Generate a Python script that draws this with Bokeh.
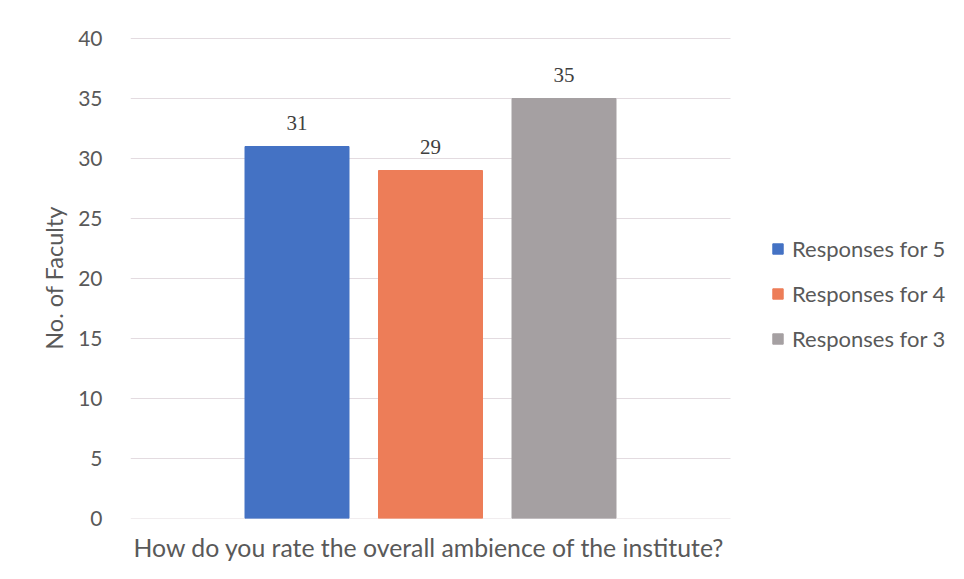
from bokeh.plotting import figure
from bokeh.models import Range1d, ColumnDataSource, Legend, LegendItem, FixedTicker, Title
from bokeh.embed import file_html
from bokeh.resources import INLINE
from bokeh.core.properties import value

series = ["Responses for 5", "Responses for 4", "Responses for 3"]
counts = [31, 29, 35]
colors = ["#4472C4", "#ED7D58", "#A5A0A2"]
y_ticks = [0, 5, 10, 15, 20, 25, 30, 35, 40]
x_title = "How do you rate the overall ambience of the institute?"
y_title = "No. of Faculty"

W, H = 960, 575
p = figure(width=W, height=H, output_backend="svg", toolbar_location=None,
           x_range=Range1d(0, 8.3), y_range=Range1d(0, 40 + 1 / 12),
           min_border_left=130, min_border_right=0, min_border_top=37, min_border_bottom=57)

# gridlines across the plotting area only (the frame extends under the legend)
p.segment(x0=[0] * len(y_ticks), x1=[6] * len(y_ticks), y0=y_ticks, y1=y_ticks,
          line_color="#e3dbe0", line_width=1)

centers = [3 + (i - 1) * 1.335 for i in range(len(series))]
src = ColumnDataSource(dict(x=centers, top=counts, color=colors, name=series,
                            label=[str(c) for c in counts]))
r = p.vbar(x="x", top="top", width=1.04, bottom=0, color="color", source=src)

p.text(x="x", y="top", text="label", source=src, text_align="center", text_baseline="bottom",
       y_offset=-17, text_font=value("Liberation Serif"), text_font_size="21px", text_color="#404040")

p.outline_line_color = None
p.xgrid.grid_line_color = None
p.ygrid.grid_line_color = None
p.yaxis.ticker = FixedTicker(ticks=y_ticks)
p.yaxis.axis_line_color = None
p.yaxis.major_tick_line_color = None
p.yaxis.minor_tick_line_color = None
p.yaxis.major_label_text_font = "Lato"
p.yaxis.major_label_text_font_size = "21px"
p.yaxis.major_label_text_color = "#595959"
p.yaxis.major_label_standoff = 22
p.yaxis.axis_label = y_title
p.yaxis.axis_label_text_font = "Lato"
p.yaxis.axis_label_text_font_size = "23.5px"
p.yaxis.axis_label_text_font_style = "normal"
p.yaxis.axis_label_text_color = "#595959"
p.yaxis.axis_label_standoff = 7

p.xaxis.visible = False
p.add_layout(Title(text=x_title, align="left", offset=3, standoff=25,
                   text_font="Lato", text_font_size="24.8px", text_font_style="normal",
                   text_color="#595959"), "below")

items = [LegendItem(label=series[i], renderers=[r], index=i) for i in range(len(series))]
legend = Legend(items=items, location=(641, 166), orientation="vertical",
                padding=0, margin=0, spacing=18, glyph_width=13, glyph_height=13,
                label_standoff=8, label_height=24,
                label_text_font="Lato", label_text_font_size="22px",
                label_text_color="#595959", background_fill_alpha=0, border_line_color=None)
p.add_layout(legend, "center")

open("out.html", "w").write(file_html(p, INLINE))
